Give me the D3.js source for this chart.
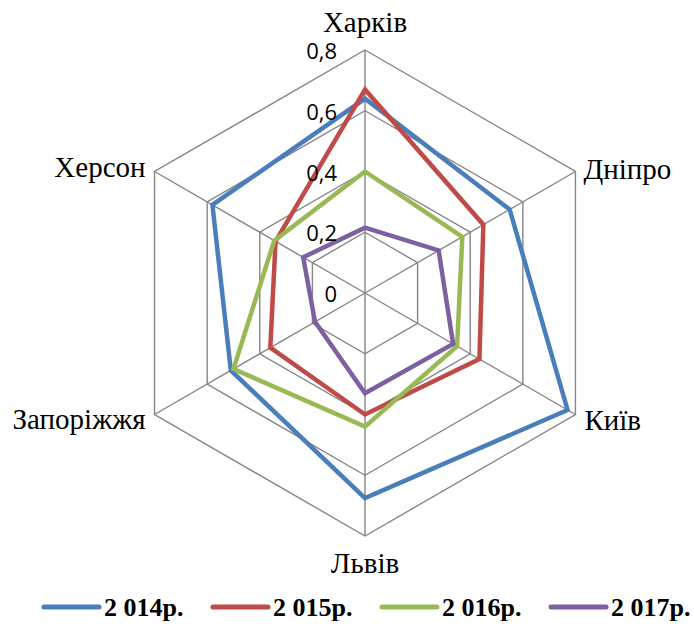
<!DOCTYPE html>
<html>
<head>
<meta charset="utf-8">
<script src="https://cdn.jsdelivr.net/npm/d3@7/dist/d3.min.js"></script>
<style>
  html, body { margin: 0; padding: 0; background: #fff; }
  svg { display: block; }
</style>
</head>
<body>
<svg id="chart" width="694" height="629"></svg>
<script>
// Cities on the radar axes, clockwise from the top
const categories = ["Харків", "Дніпро", "Київ", "Львів", "Запоріжжя", "Херсон"];
const seriesNames = ["2 014р.", "2 015р.", "2 016р.", "2 017р."];
const values2014 = [0.64, 0.55, 0.77, 0.675, 0.51, 0.58];
const values2015 = [0.67, 0.45, 0.435, 0.40, 0.36, 0.34];
const values2016 = [0.40, 0.37, 0.35, 0.44, 0.50, 0.345];
const values2017 = [0.215, 0.28, 0.335, 0.33, 0.19, 0.235];
const tickValues = [0, 0.2, 0.4, 0.6, 0.8];
const tickLabels = ["0", "0,2", "0,4", "0,6", "0,8"];
const colors = ["#4A7EBB", "#BE4B48", "#98B954", "#7D60A0"];

const series = [values2014, values2015, values2016, values2017];

const svg = d3.select("#chart");
const cx = 365, cy = 293;
const r = d3.scaleLinear().domain([0, 0.8]).range([0, 243]);
const angle = d3.scalePoint().domain(categories).range([0, 2 * Math.PI * (categories.length - 1) / categories.length]);

function pt(cat, v) {
  const a = angle(cat) - Math.PI / 2;
  return [cx + r(v) * Math.cos(a), cy + r(v) * Math.sin(a)];
}

const grid = svg.append("g");
// Hexagonal rings
tickValues.filter(t => t > 0).forEach(t => {
  grid.append("path")
    .attr("d", d3.line()(categories.map(c => pt(c, t))) + "Z")
    .attr("fill", "none")
    .attr("stroke", "#868686")
    .attr("stroke-width", 1.4);
});
// Spokes
categories.forEach(c => {
  const p = pt(c, 0.8);
  grid.append("line")
    .attr("x1", cx).attr("y1", cy)
    .attr("x2", p[0]).attr("y2", p[1])
    .attr("stroke", "#868686")
    .attr("stroke-width", 1.4);
});

// Series polygons
const line = d3.line();
series.forEach((vals, i) => {
  svg.append("path")
    .attr("d", line(categories.map((c, j) => pt(c, vals[j]))) + "Z")
    .attr("fill", "none")
    .attr("stroke", colors[i])
    .attr("stroke-width", 4.5)
    .attr("stroke-linejoin", "miter");
});

// Value labels along the top axis
svg.append("g").selectAll("text")
  .data(tickValues)
  .join("text")
  .attr("x", cx - 28)
  .attr("y", d => cy - r(d))
  .attr("text-anchor", "end")
  .attr("dominant-baseline", "central")
  .attr("font-family", "'Open Sans', 'Liberation Sans', sans-serif")
  .attr("font-size", 22)
  .attr("fill", "#000")
  .text((d, i) => tickLabels[i]);

// Category labels
const catFont = "'Liberation Serif', 'Times New Roman', serif";
const labelPos = {
  "Харків": { dx: 0, dy: -18, anchor: "middle" },
  "Дніпро": { dx: 8, dy: 7, anchor: "start" },
  "Київ": { dx: 9, dy: 15, anchor: "start" },
  "Львів": { dx: 0, dy: 37, anchor: "middle" },
  "Запоріжжя": { dx: -9, dy: 14, anchor: "end" },
  "Херсон": { dx: -9, dy: 5, anchor: "end" }
};
categories.forEach(c => {
  const p = pt(c, 0.8);
  const o = labelPos[c];
  svg.append("text")
    .attr("x", p[0] + o.dx)
    .attr("y", p[1] + o.dy)
    .attr("text-anchor", o.anchor)
    .attr("font-family", catFont)
    .attr("font-size", 29)
    .attr("fill", "#000")
    .text(c);
});

// Legend
const legend = svg.append("g").attr("transform", "translate(44,607)");
seriesNames.forEach((name, i) => {
  const g = legend.append("g").attr("transform", `translate(${i * 169},0)`);
  g.append("line")
    .attr("x1", 0).attr("x2", 55)
    .attr("y1", 0).attr("y2", 0)
    .attr("stroke", colors[i])
    .attr("stroke-width", 5)
    .attr("stroke-linecap", "round");
  g.append("text")
    .attr("x", 60).attr("y", 9)
    .attr("font-family", catFont)
    .attr("font-weight", "bold")
    .attr("font-size", 26)
    .attr("fill", "#000")
    .text(name);
});
</script>
</body>
</html>
